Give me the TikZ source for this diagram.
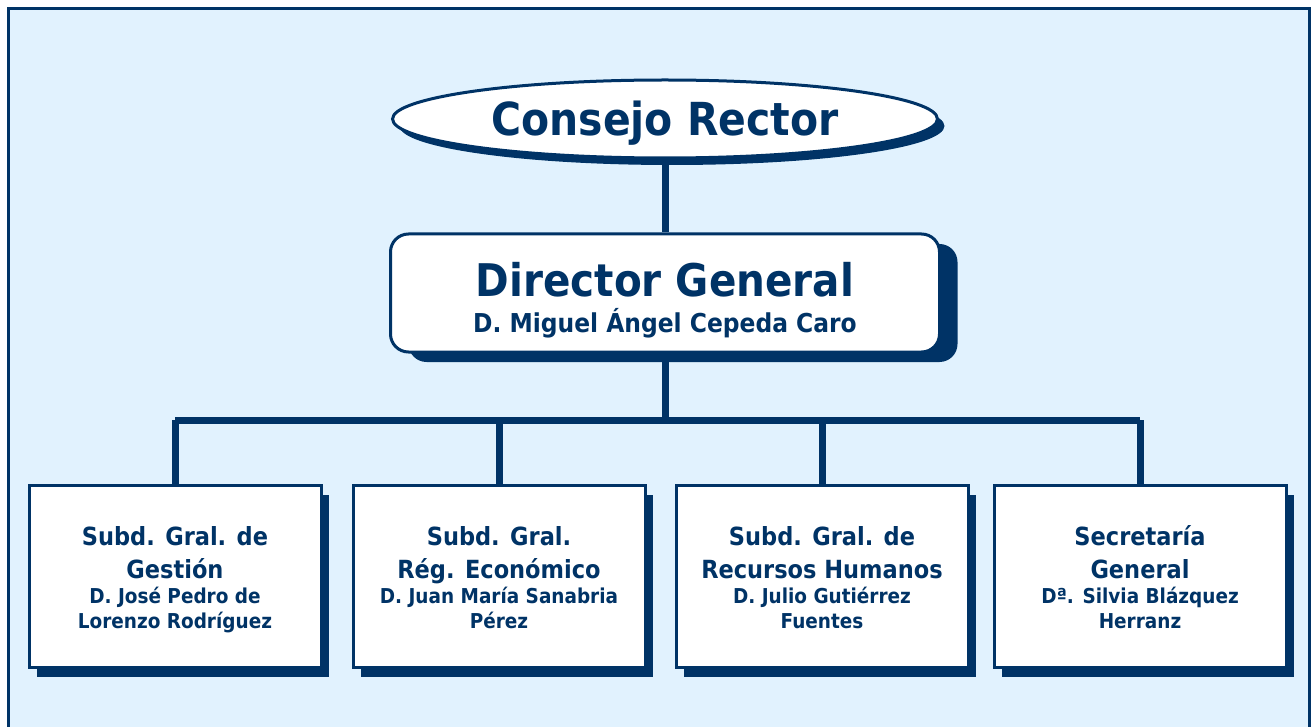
\documentclass[tikz,border=0pt]{standalone}
\usepackage{fontspec}
\setmainfont{DejaVu Sans Condensed}
\usetikzlibrary{shapes.geometric,shadows}
\definecolor{navy}{RGB}{0,51,102}
\definecolor{paleblue}{RGB}{225,242,254}
\newcommand{\ttlfont}{\fontsize{25}{25}\selectfont}
\newcommand{\nmfont}{\fontsize{20.5}{25}\selectfont}
\begin{document}
\begin{tikzpicture}[x=1pt,y=-1pt]
      \tikzstyle{unit} = [draw=navy, line width=3pt, fill=white, text=navy, align=center, inner sep=0pt]
      \tikzstyle{link} = [draw=navy, line width=7pt]

      \useasboundingbox (0,0) rectangle (1312,727);
      \draw[navy, line width=3pt, fill=paleblue] (8,9) rectangle (1309,760);

      \node[unit, ellipse, minimum width=545pt, minimum height=78pt, text height=34pt, text depth=0pt,
        font=\bfseries\fontsize{45.5}{50}\selectfont,
        drop shadow={shadow xshift=7pt, shadow yshift=-7pt, fill=navy, opacity=1}]
        (consejo) at (665,119) {Consejo Rector};

      \node[unit, rectangle, rounded corners=18pt, minimum width=549pt, minimum height=118pt,
        text height=80pt, text depth=0pt, font=\bfseries\fontsize{26}{36}\selectfont,
        drop shadow={shadow xshift=18pt, shadow yshift=-10pt, fill=navy, opacity=1}]
        (director) at (665,293) {\fontsize{45}{45}\selectfont Director General\\
        \fontsize{26}{26}\selectfont D. Miguel Ángel Cepeda Caro};

      \foreach \i/\x/\ta/\tb/\na/\nb in {
          1/175/Subd. Gral. de/Gestión/D. José Pedro de/Lorenzo Rodríguez,
          2/499/Subd. Gral./Rég. Económico/D. Juan María Sanabria/Pérez,
          3/822/Subd. Gral. de/Recursos Humanos/D. Julio Gutiérrez/Fuentes,
          4/1140/Secretaría/General/Dª. Silvia Blázquez/Herranz}{
        \node[unit, rectangle, minimum width=292pt, minimum height=182pt,
          text height=104pt, text depth=0pt, font=\bfseries\fontsize{20.5}{25}\selectfont,
          drop shadow={shadow xshift=8pt, shadow yshift=-10pt, fill=navy, opacity=1}]
          (sub\i) at (\x,576) {\ttlfont\ta\\[8pt]\ttlfont\tb\\
          \nmfont\na\\\nmfont\nb};
      }

      \coordinate (bus) at (665,420);
      \path[link] (consejo) -- (director);
      \path[link] (director) -- (bus);
      \path[link] (sub1.north |- bus) -- (sub4.north |- bus);
      \foreach \i in {1,...,4}
        \path[link] (sub\i.north |- bus) -- (sub\i.north);
\end{tikzpicture}
\end{document}
